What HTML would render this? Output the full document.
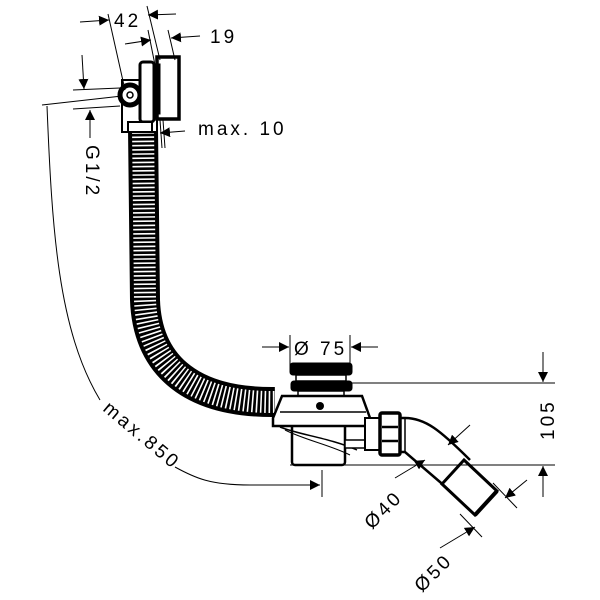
<!DOCTYPE html>
<html><head><style>html,body{margin:0;padding:0;background:#fff}svg{display:block}</style></head>
<body>
<svg width="600" height="600" viewBox="0 0 600 600" xmlns="http://www.w3.org/2000/svg" font-family="Liberation Sans, sans-serif">
<defs>
<marker id="a" viewBox="0 0 10 10" refX="10" refY="5" markerWidth="10" markerHeight="10" orient="auto-start-reverse" markerUnits="userSpaceOnUse"><path d="M0,0 L10,5 L0,10 Z" fill="#000"/></marker>
</defs>
<g fill="none" stroke="#000">
<!-- hose -->
<path d="M143,128 L145,300 C147,360 185,403 275,402" stroke-width="30"/>
<path d="M143,128 L145,300 C147,360 185,403 275,402" stroke="#fff" stroke-width="22" stroke-dasharray="1.6 2.6"/>
<!-- overflow fitting -->
<rect x="122" y="80" width="35" height="52" fill="#fff" stroke-width="2"/>
<circle cx="130" cy="95" r="10" fill="#fff" stroke-width="5"/>
<circle cx="130" cy="95" r="3" stroke-width="1.5"/>
<rect x="140" y="62" width="14" height="60" rx="3" fill="#fff" stroke-width="3"/>
<rect x="157" y="57" width="22" height="62" fill="#fff" stroke-width="3.5"/>
<rect x="153" y="64" width="7" height="50" fill="#000"/>
<rect x="128" y="122" width="24" height="10" fill="#fff" stroke-width="2"/>
<!-- drain -->
<rect x="290" y="363" width="62" height="12" rx="3" fill="#000" stroke-width="1"/>
<rect x="296" y="375" width="50" height="6" fill="#fff" stroke-width="1.5"/>
<rect x="291" y="381" width="61" height="10" rx="3" fill="#000" stroke-width="1"/>
<rect x="298" y="391" width="46" height="6" fill="#fff" stroke-width="1.5"/>
<rect x="292" y="420" width="53" height="45" rx="3" fill="#fff" stroke-width="2.5"/>
<path d="M273,418 L282,396 L362,396 L370,418 L370,426 L273,426 Z" fill="#fff" stroke-width="2.5"/>
<line x1="280" y1="412" x2="366" y2="412" stroke-width="1.5"/>
<circle cx="320" cy="406" r="4" fill="#000" stroke="none"/>
<path d="M280,427 C300,435 330,438 357,450" stroke-width="1.5"/>
<path d="M285,430 C305,440 330,445 350,455" stroke-width="1"/>
<rect x="345" y="440" width="20" height="8" fill="#fff" stroke-width="1.5"/>
<rect x="365" y="418" width="16" height="32" fill="#fff" stroke-width="2"/>
<rect x="380" y="413" width="20" height="42" rx="2" fill="#fff" stroke-width="3.5"/>
<line x1="382" y1="427" x2="398" y2="427" stroke-width="2.5"/><line x1="382" y1="441" x2="398" y2="441" stroke-width="2.5"/>
<!-- elbow -->
<path d="M400,418 L405,418 C425,418 440,430 470,460" stroke-width="2.5"/>
<path d="M400,452 L405,452 L447,488" stroke-width="2.5"/>
<line x1="405" y1="418" x2="405" y2="452" stroke-width="1.5"/>
<path d="M464,460 L497,491 L475,515 L442,484 Z" fill="#fff" stroke-width="3"/>
<line x1="497" y1="491" x2="475" y2="515" stroke-width="4"/>
<!-- dimension lines -->
<g stroke-width="1">
<line x1="108" y1="14" x2="125" y2="90"/><line x1="147" y1="6" x2="160" y2="60"/>
<line x1="80" y1="22" x2="109" y2="20" marker-end="url(#a)"/><line x1="176" y1="14" x2="148" y2="15" marker-end="url(#a)"/>
<line x1="148" y1="30" x2="155" y2="65"/><line x1="168" y1="30" x2="175" y2="60"/>
<line x1="125" y1="44" x2="151" y2="40" marker-end="url(#a)"/><line x1="200" y1="36" x2="171" y2="38" marker-end="url(#a)"/>
<line x1="160" y1="120" x2="162" y2="148"/><line x1="163" y1="120" x2="165" y2="148"/>
<line x1="185" y1="131" x2="160" y2="133" marker-end="url(#a)"/>
<line x1="73" y1="90" x2="120" y2="88"/><line x1="73" y1="109" x2="120" y2="106"/>
<line x1="42" y1="105" x2="122" y2="96"/>
<line x1="82" y1="55" x2="84" y2="89" marker-end="url(#a)"/>
<line x1="90" y1="138" x2="90" y2="110" marker-end="url(#a)"/>
<path d="M47,106 C52,230 58,330 100,400"/>
<path d="M175,467 C195,478 210,485 250,485 L320,485" marker-end="url(#a)"/>
<line x1="322" y1="470" x2="322" y2="497"/>
<line x1="290" y1="335" x2="290" y2="372"/><line x1="350" y1="335" x2="350" y2="372"/>
<line x1="262" y1="347" x2="289" y2="347" marker-end="url(#a)"/><line x1="378" y1="347" x2="351" y2="347" marker-end="url(#a)"/>
<line x1="350" y1="383" x2="555" y2="383"/><line x1="290" y1="465" x2="555" y2="465"/>
<line x1="543" y1="352" x2="543" y2="382" marker-end="url(#a)"/><line x1="543" y1="497" x2="543" y2="466" marker-end="url(#a)"/>
<line x1="470" y1="425" x2="448" y2="445" marker-end="url(#a)"/>
<line x1="527" y1="480" x2="505" y2="498" marker-end="url(#a)"/>
<line x1="493" y1="483" x2="517" y2="508"/>
<line x1="460" y1="514" x2="482" y2="537"/>
<line x1="395" y1="478" x2="425" y2="460" marker-end="url(#a)"/>
<line x1="440" y1="548" x2="475" y2="527" marker-end="url(#a)"/>
</g>
</g>
<g fill="#000" font-size="19" letter-spacing="3">
<text x="114" y="27">42</text>
<text x="210" y="43">19</text>
<text x="198" y="135">max. 10</text>
<text transform="translate(86,145) rotate(90)">G1/2</text>
<text transform="translate(102,410) rotate(40)">max.850</text>
<text x="294" y="355">Ø 75</text>
<text transform="translate(554,440) rotate(-90)">105</text>
<text transform="translate(372,530) rotate(-45)">Ø40</text>
<text transform="translate(422,593) rotate(-45)">Ø50</text>
</g>
</svg>
</body></html>
